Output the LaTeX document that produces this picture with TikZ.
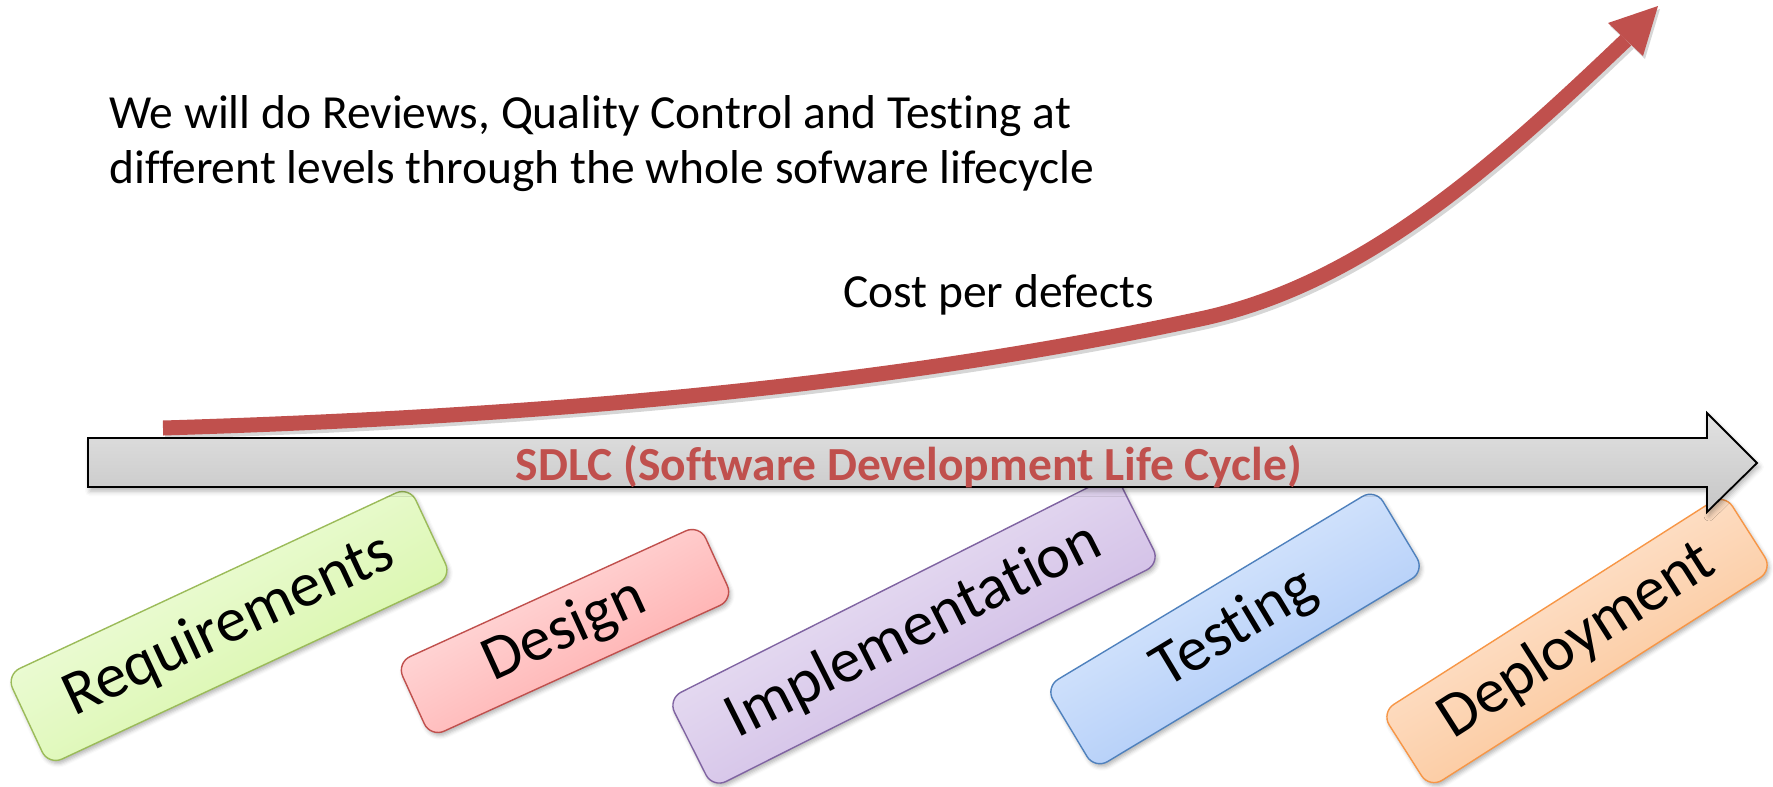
\documentclass[tikz,border=0pt]{standalone}
\usepackage{fontspec}
\setmainfont{Carlito}[Ligatures={NoCommon,NoContextual}]
\usetikzlibrary{shadows.blur}
\definecolor{costred}{HTML}{C0504D}
\definecolor{reqA}{HTML}{F4FDE8}
\definecolor{reqB}{HTML}{D2F59C}
\definecolor{reqL}{HTML}{9BBB59}
\definecolor{desA}{HTML}{FFE6E6}
\definecolor{desB}{HTML}{FFA3A3}
\definecolor{desL}{HTML}{C0504D}
\definecolor{impA}{HTML}{F2EDF8}
\definecolor{impB}{HTML}{C6AEE0}
\definecolor{impL}{HTML}{8064A2}
\definecolor{tesA}{HTML}{E6F0FD}
\definecolor{tesB}{HTML}{A1C2F7}
\definecolor{tesL}{HTML}{4F81BD}
\definecolor{depA}{HTML}{FEEDE0}
\definecolor{depB}{HTML}{FBBD88}
\definecolor{depL}{HTML}{F79646}
\definecolor{arrA}{HTML}{E2E2E2}
\definecolor{arrB}{HTML}{C6C6C6}
\begin{document}
\begin{tikzpicture}[x=1pt,y=-1pt,
  phase/.style={draw, line width=1.4pt, rounded corners=15pt, inner sep=0pt,
    font=\fontsize{63}{70}\selectfont, text=black,
    blur shadow={shadow xshift=2pt, shadow yshift=-3pt, shadow blur radius=4pt, shadow opacity=30}},
  bodytext/.style={anchor=base west, inner sep=0pt, font=\fontsize{47.5}{57}\selectfont, text=black},
  costline/.style={draw=costred, line width=15pt},
  costshadow/.style={draw=black, opacity=0.16, line width=16pt, transform canvas={shift={(2pt,-3pt)}}},
  sdlcarrow/.style={draw=black, line width=1.8pt, top color=arrA, bottom color=arrB,
    blur shadow={shadow xshift=2pt, shadow yshift=-4pt, shadow blur radius=5pt, shadow opacity=30}}
]
\useasboundingbox (0,0) rectangle (1773,787);

% phase boxes (behind the SDLC arrow)
\node[phase, minimum width=445pt, minimum height=100pt, rotate=25,
  top color=reqA, bottom color=reqB, shading angle=30, draw=reqL] (req) at (229,626) {Requirements};
\node[phase, minimum width=333pt, minimum height=82pt, rotate=24.5,
  top color=desA, bottom color=desB, shading angle=30, draw=desL] (des) at (565,631) {Design};
\node[phase, minimum width=501pt, minimum height=100pt, rotate=26.7,
  top color=impA, bottom color=impB, shading angle=30, draw=impL] (imp) at (914,631) {Implementation};
\node[phase, minimum width=385pt, minimum height=96pt, rotate=31,
  top color=tesA, bottom color=tesB, shading angle=30, draw=tesL] (tes) at (1235,629) {Testing};
\node[phase, minimum width=407pt, minimum height=90pt, rotate=32.5,
  top color=depA, bottom color=depB, shading angle=30, draw=depL] (dep) at (1577,641) {Deployment};

% SDLC arrow
\path[sdlcarrow] (88,438) -- (1707,438) -- (1707,413) -- (1757,463) -- (1707,512) -- (1707,487) -- (88,487) -- cycle;
\node[anchor=base, inner sep=0pt, font=\bfseries\fontsize{47.5}{57}\selectfont, text=costred] (sdlc) at (909,480)
  {SDLC (Software Development Life Cycle)};

% cost curve
\coordinate (c0) at (163,428);
\coordinate (c1) at (1200,319);
\coordinate (c2) at (1626,40);
\coordinate (tip) at (1658,6);
\coordinate (hl) at (1608,23);
\coordinate (hr) at (1643,56);
\path[costshadow] (c0) .. controls (563,416) and (900,383) .. (c1) .. controls (1360,285) and (1490,170) .. (c2);
\fill[black, opacity=0.16, transform canvas={shift={(2pt,-3pt)}}] (tip) -- (hl) -- (hr) -- cycle;
\path[costline] (c0) .. controls (563,416) and (900,383) .. (c1) .. controls (1360,285) and (1490,170) .. (c2);
\fill[costred] (tip) -- (hl) -- (hr) -- cycle;

% texts
\node[bodytext] (note1) at (109,128) {We will do Reviews, Quality Control and Testing at};
\node[bodytext] (note2) at (109,183) {different levels through the whole sofware lifecycle};
\node[bodytext] (cost) at (843,307) {Cost per defects};
\end{tikzpicture}
\end{document}
